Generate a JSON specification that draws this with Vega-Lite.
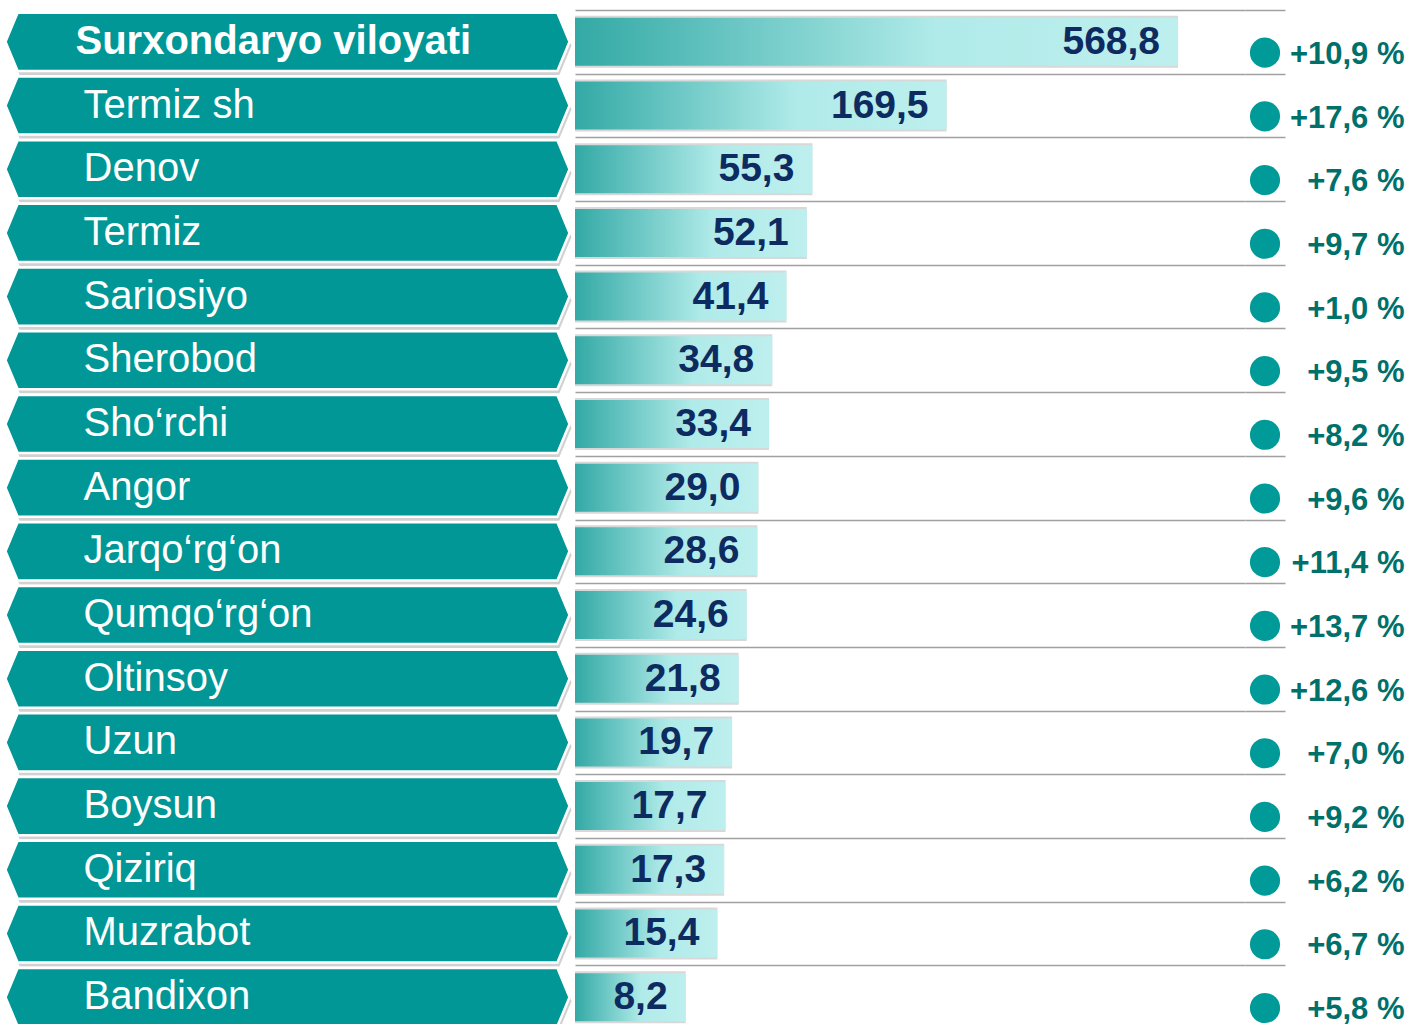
{
  "$schema": "https://vega.github.io/schema/vega-lite/v6.json",
  "padding": {"left": 0, "top": 7, "right": 0, "bottom": 0},
  "background": "white",
  "spacing": 0,
  "bounds": "flush",
  "config": {"view": {"stroke": null}, "font": "Liberation Sans"},
  "data": {
    "values": [
      {"name": "Surxondaryo viloyati", "value": 568.8, "change": 10.9},
      {"name": "Termiz sh", "value": 169.5, "change": 17.6},
      {"name": "Denov", "value": 55.3, "change": 7.6},
      {"name": "Termiz", "value": 52.1, "change": 9.7},
      {"name": "Sariosiyo", "value": 41.4, "change": 1.0},
      {"name": "Sherobod", "value": 34.8, "change": 9.5},
      {"name": "Sho‘rchi", "value": 33.4, "change": 8.2},
      {"name": "Angor", "value": 29.0, "change": 9.6},
      {"name": "Jarqo‘rg‘on", "value": 28.6, "change": 11.4},
      {"name": "Qumqo‘rg‘on", "value": 24.6, "change": 13.7},
      {"name": "Oltinsoy", "value": 21.8, "change": 12.6},
      {"name": "Uzun", "value": 19.7, "change": 7.0},
      {"name": "Boysun", "value": 17.7, "change": 9.2},
      {"name": "Qiziriq", "value": 17.3, "change": 6.2},
      {"name": "Muzrabot", "value": 15.4, "change": 6.7},
      {"name": "Bandixon", "value": 8.2, "change": 5.8}
    ]
  },
  "transform": [
    {"calculate": "replace(format(datum.value, '.1f'), '.', ',')", "as": "valueLabel"},
    {"calculate": "replace(format(datum.change, '+.1f'), '.', ',') + ' %'", "as": "changeLabel"}
  ],
  "hconcat": [
    {
      "width": 575,
      "height": 1019,
      "encoding": {
        "y": {"field": "name", "type": "nominal", "sort": null, "axis": null, "scale": {"paddingInner": 0, "paddingOuter": 0}}
      },
      "layer": [
        {
          "mark": {"type": "point", "shape": "M -1 0 L -0.957 -0.103 L 0.957 -0.103 L 1 0 L 0.957 0.103 L -0.957 0.103 Z", "size": 318096, "filled": true, "fill": "#9a9a9a", "opacity": 0.45, "strokeWidth": 0},
          "encoding": {"xOffset": {"value": 2}, "yOffset": {"value": 4}}
        },
        {
          "mark": {"type": "point", "shape": "M -1 0 L -0.957 -0.103 L 0.957 -0.103 L 1 0 L 0.957 0.103 L -0.957 0.103 Z", "size": 318096, "filled": true, "fill": "#009796", "stroke": "#ffffff", "strokeWidth": 2.5, "opacity": 1}
        },
        {
          "mark": {"type": "text", "align": "left", "baseline": "middle", "dx": -204, "fontSize": 40, "color": "#ffffff"},
          "encoding": {"text": {"condition": {"test": "datum.name !== 'Surxondaryo viloyati'", "field": "name"}, "value": ""}}
        },
        {
          "mark": {"type": "text", "align": "left", "baseline": "middle", "dx": -212, "fontSize": 40, "fontWeight": "bold", "color": "#ffffff"},
          "encoding": {"text": {"condition": {"test": "datum.name === 'Surxondaryo viloyati'", "field": "name"}, "value": ""}}
        }
      ]
    },
    {
      "width": 670,
      "height": 1019,
      "encoding": {
        "y": {"field": "name", "type": "nominal", "sort": null, "scale": {"paddingInner": 0, "paddingOuter": 0},
              "axis": {"grid": true, "tickBand": "extent", "labels": false, "ticks": false, "domain": false, "title": null, "gridColor": "#a0a0a0", "gridWidth": 1.5}}
      },
      "layer": [
        {
          "mark": {"type": "bar", "size": 52, "color": "#b8b8b8", "opacity": 0.55},
          "encoding": {
            "x": {"field": "value", "type": "quantitative", "scale": {"type": "pow", "exponent": 0.4, "domain": [0, 740]}, "axis": null}
          }
        },
        {
          "mark": {"type": "bar", "size": 48, "color": {"gradient": "linear", "x1": 0, "x2": 1, "y1": 0, "y2": 0, "stops": [{"offset": 0, "color": "#33a9a5"}, {"offset": 0.6, "color": "#b0ebe9"}, {"offset": 1, "color": "#bdefee"}]}},
          "encoding": {
            "x": {"field": "value", "type": "quantitative", "scale": {"type": "pow", "exponent": 0.4, "domain": [0, 740]}, "axis": null}
          }
        },
        {
          "mark": {"type": "text", "align": "right", "baseline": "middle", "dx": -18, "fontSize": 39, "fontWeight": "bold", "color": "#0d2b61"},
          "encoding": {
            "x": {"field": "value", "type": "quantitative", "scale": {"type": "pow", "exponent": 0.4, "domain": [0, 740]}, "axis": null},
            "text": {"field": "valueLabel"}
          }
        }
      ]
    },
    {
      "width": 40,
      "height": 1019,
      "encoding": {
        "y": {"field": "name", "type": "nominal", "sort": null, "scale": {"paddingInner": 0, "paddingOuter": 0},
              "axis": {"grid": true, "tickBand": "extent", "labels": false, "ticks": false, "domain": false, "title": null, "gridColor": "#a0a0a0", "gridWidth": 1.5}}
      },
      "layer": [
        {
          "mark": {"type": "point", "shape": "circle", "size": 908, "filled": true, "color": "#009a98", "opacity": 1},
          "encoding": {"y": {"field": "name", "type": "nominal", "sort": null, "bandPosition": 0.67}}
        }
      ]
    },
    {
      "width": 125,
      "height": 1019,
      "encoding": {
        "y": {"field": "name", "type": "nominal", "sort": null, "axis": null, "scale": {"paddingInner": 0, "paddingOuter": 0}}
      },
      "layer": [
        {
          "mark": {"type": "text", "align": "right", "baseline": "middle", "dx": 57, "dy": 13, "fontSize": 31, "fontWeight": "bold", "color": "#00706b"},
          "encoding": {
            "text": {"field": "changeLabel"}
          }
        }
      ]
    }
  ]
}
